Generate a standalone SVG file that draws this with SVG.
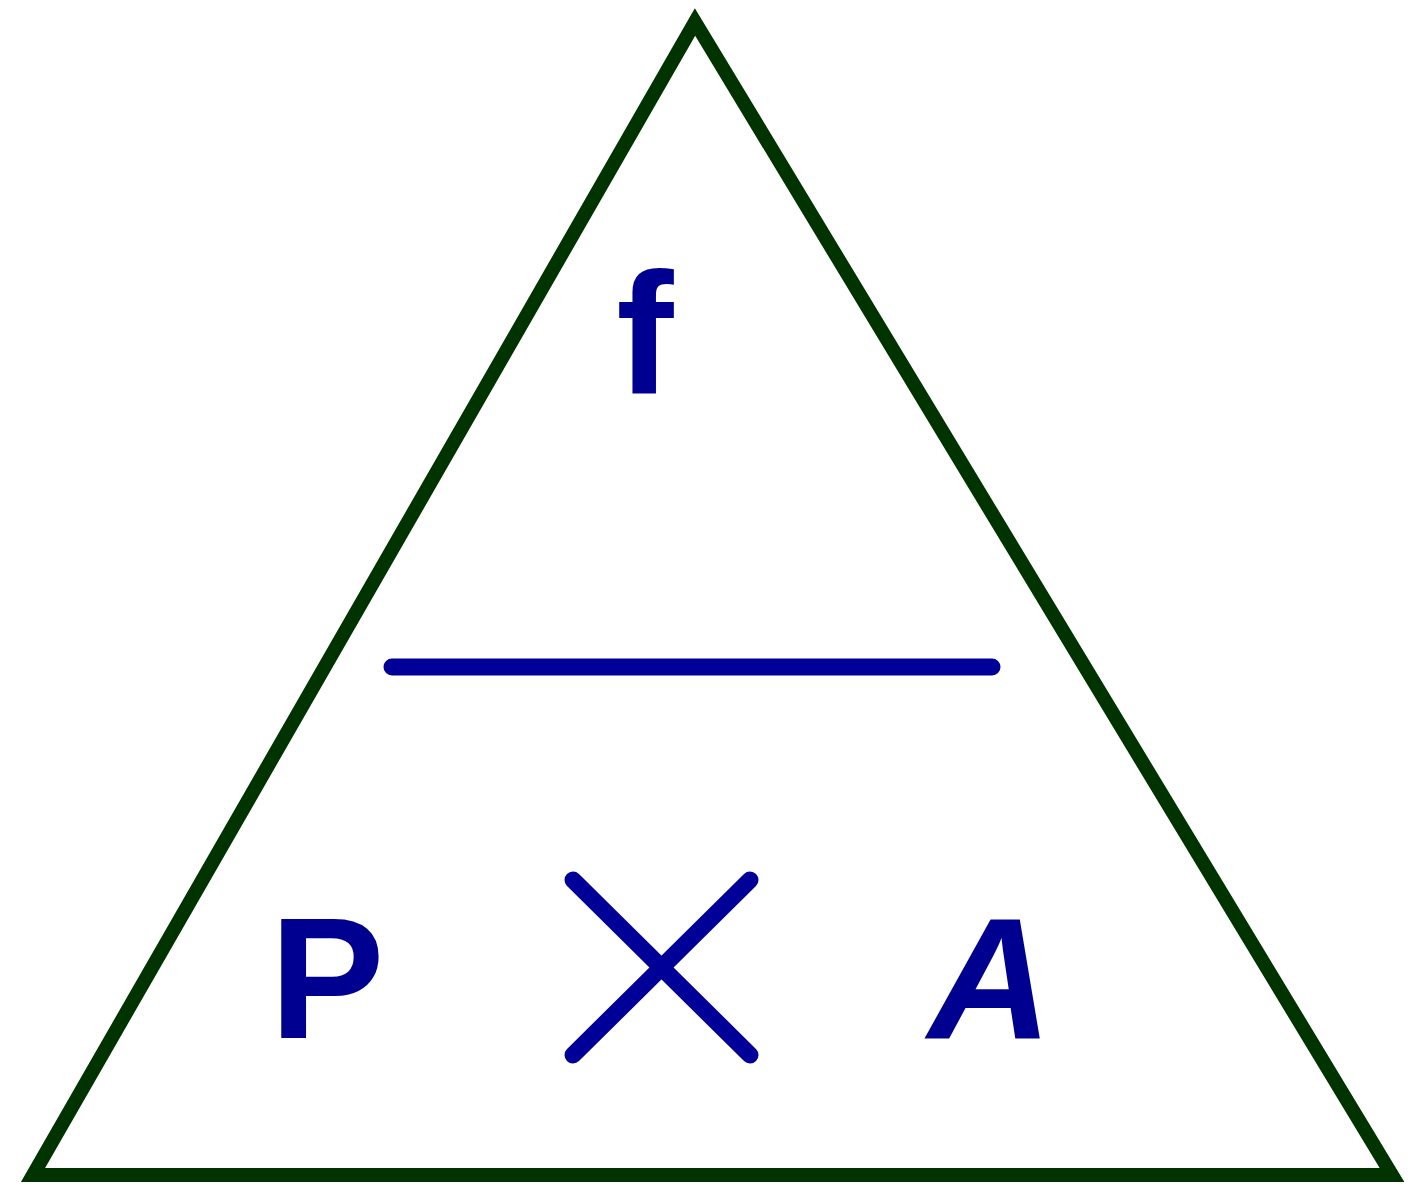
<svg xmlns="http://www.w3.org/2000/svg" width="1426" height="1200" viewBox="0 0 1426 1200">
<style>
.lbl{font-family:"Liberation Sans",Arial,sans-serif;font-weight:bold;fill:#000090;font-size:172px}
.ln{stroke:#000099;stroke-width:17;stroke-linecap:round;fill:none}
</style>
<rect width="1426" height="1200" fill="#ffffff"/>
<g id="triangle">
<polygon points="695,22 33,1175 1392,1175" fill="none" stroke="#003300" stroke-width="14" stroke-linejoin="miter"/>
</g>
<g id="f"><text class="lbl" x="645" y="393" text-anchor="middle">f</text></g>
<g id="divider"><line class="ln" x1="392" y1="667" x2="992" y2="667"/></g>
<g id="P"><text class="lbl" x="327" y="1038" text-anchor="middle">P</text></g>
<g id="times"><line class="ln" x1="573" y1="880" x2="750" y2="1055"/><line class="ln" x1="750" y1="880" x2="573" y2="1055"/></g>
<g id="A"><text class="lbl" x="990" y="1038" text-anchor="middle" font-style="italic">A</text></g>
</svg>
